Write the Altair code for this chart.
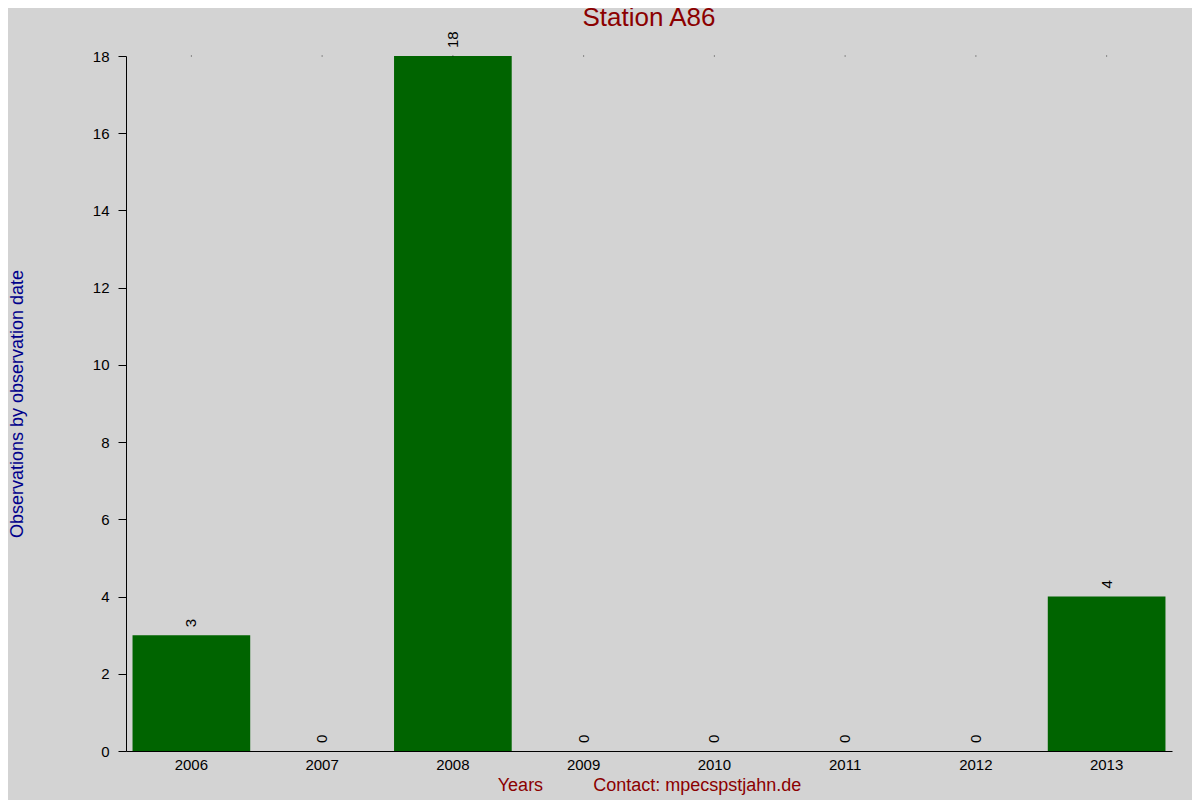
import altair as alt
import pandas as pd

years = ["2006", "2007", "2008", "2009", "2010", "2011", "2012", "2013"]
counts = [3, 0, 18, 0, 0, 0, 0, 4]

df = pd.DataFrame({"year": years, "count": counts})

FONT = "Liberation Sans"
DARKRED = "#8B0000"
DARKBLUE = "#00008B"
GREEN = "#006400"

x_title = "Years" + "\u00a0" * 10 + "Contact: mpecspstjahn.de"

x_enc = alt.X(
    "year:O",
    sort=years,
    scale=alt.Scale(paddingInner=0.1, paddingOuter=0.05),
    axis=alt.Axis(
        title=x_title,
        labelAngle=0,
        ticks=False,
        domain=True,
        domainColor="black",
        domainWidth=1,
        labelFontSize=15,
        labelFont=FONT,
        labelColor="black",
        labelPadding=6,
        titleFont=FONT,
        titleFontSize=18,
        titleFontWeight="normal",
        titleColor=DARKRED,
        titlePadding=4,
    ),
)

y_enc = alt.Y(
    "count:Q",
    scale=alt.Scale(domain=[0, 18], nice=False),
    axis=alt.Axis(
        values=list(range(0, 19, 2)),
        grid=False,
        tickSize=8,
        tickColor="black",
        domainColor="black",
        labelFontSize=15,
        labelFont=FONT,
        labelColor="black",
        labelPadding=9,
        title="Observations by observation date",
        titleFont=FONT,
        titleFontSize=18,
        titleFontWeight="normal",
        titleColor=DARKBLUE,
        titlePadding=66,
    ),
)

base = alt.Chart(df)

bars = base.mark_bar(color=GREEN).encode(x=x_enc, y=y_enc)

labels = base.mark_text(
    angle=270, align="left", baseline="middle", dx=8, fontSize=15, font=FONT, color="black"
).encode(x=alt.X("year:O", sort=years), y=alt.Y("count:Q"), text=alt.Text("count:Q"))

dots = base.mark_tick(size=1, thickness=1, color="black", orient="vertical").encode(
    x=alt.X("year:O", sort=years), y=alt.value(0)
)

chart = (
    alt.layer(bars, labels, dots)
    .properties(
        width=1046,
        height=695,
        title=alt.TitleParams(
            "Station A86",
            font=FONT,
            fontSize=26,
            fontWeight="normal",
            color=DARKRED,
            anchor="middle",
            frame="group",
            offset=10,
            dy=10,
        ),
        padding={"left": 118, "top": 48, "right": 20, "bottom": 49},
        autosize=alt.AutoSizeParams(type="none"),
        background="#d3d3d3",
    )
    .configure_view(strokeWidth=0)
)

chart.save("out.html", embed_options={"renderer": "svg", "actions": False})
